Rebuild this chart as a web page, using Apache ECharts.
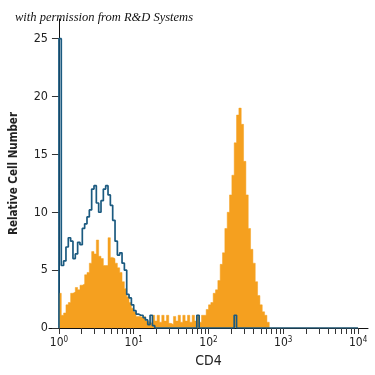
<!DOCTYPE html>
<html>
<head>
<meta charset="utf-8">
<style>html,body{margin:0;padding:0;background:#fff;}#c{width:375px;height:375px;}</style>
<script src="https://cdn.jsdelivr.net/npm/echarts@6/dist/echarts.min.js"></script>
</head>
<body>
<div id="c"></div>
<script>
// Histogram bins: log10 of first bin edge and bin width (in decades)
const binStart = 0;
const binWidth = 1 / 32;
// Orange (stained) histogram counts per bin
const orangeCounts = [
  3.0, 1.1, 1.3, 2.0, 2.2, 3.0, 3.1, 3.5, 3.3, 3.7,
  3.8, 4.6, 4.8, 5.6, 6.6, 6.4, 7.6, 6.2, 6.0, 5.4,
  5.4, 7.8, 6.1, 6.0, 5.6, 5.2, 4.8, 4.0, 3.4, 2.7,
  2.2, 1.7, 1.4, 1.0, 1.0, 0.9, 1.0, 0.6, 0.5, 0.4,
  1.1, 0.6, 1.1, 0.5, 1.1, 0.6, 1.1, 0.4, 0.3, 1.0,
  0.6, 1.1, 0.5, 1.1, 0.6, 1.1, 0.5, 1.1, 0.6, 1.1,
  0.5, 1.1, 1.1, 1.6, 2.0, 2.2, 3.0, 3.3, 4.1, 5.5,
  6.5, 8.6, 10.0, 11.5, 13.2, 16.0, 18.4, 19.0, 17.6, 14.4,
  11.5, 8.6, 6.8, 5.6, 4.0, 2.8, 2.0, 1.4, 1.1, 0.5,
  0, 0, 0, 0, 0, 0, 0, 0, 0, 0,
  0, 0, 0, 0, 0, 0, 0, 0, 0, 0,
  0, 0, 0, 0, 0, 0, 0, 0, 0, 0,
  0, 0, 0, 0, 0, 0, 0, 0
];
// Blue (isotype control) histogram counts per bin
const blueCounts = [
  25, 5.4, 5.8, 7.0, 7.8, 7.5, 6.0, 6.4, 7.4, 7.2,
  8.6, 9.0, 9.6, 10.2, 12.0, 12.3, 10.8, 10.0, 11.0, 12.0,
  12.3, 11.5, 10.6, 9.3, 7.5, 6.3, 6.5, 5.6, 5.0, 2.9,
  2.6, 2.0, 1.5, 1.2, 1.1, 1.1, 0.9, 0.7, 0.3, 1.1,
  0.2, 0, 0, 0, 0, 0, 0, 0, 0, 0,
  0, 0, 0, 0, 0, 0, 0, 0, 0, 1.1,
  0, 0, 0, 0, 0, 0, 0, 0, 0, 0,
  0, 0, 0, 0, 0, 1.1, 0, 0, 0, 0,
  0, 0, 0, 0, 0, 0, 0, 0, 0, 0,
  0, 0, 0, 0, 0, 0, 0, 0, 0, 0,
  0, 0, 0, 0, 0, 0, 0, 0, 0, 0,
  0, 0, 0, 0, 0, 0, 0, 0, 0, 0,
  0, 0, 0, 0, 0, 0, 0, 0
];
// Axis ticks
const xDecades = [0, 1, 2, 3, 4];
const xDecadeLabels = ['0', '1', '2', '3', '4'];
const yTicks = [0, 5, 10, 15, 20, 25];

function toSteps(counts) {
  const pts = [[binStart, 0]];
  for (let i = 0; i < counts.length; i++) {
    pts.push([binStart + i * binWidth, counts[i]]);
  }
  pts.push([binStart + counts.length * binWidth, 0]);
  return pts;
}
const minorTicks = [];
for (let d = 0; d < 4; d++) {
  for (let k = 1; k <= 9; k++) minorTicks.push(d + Math.log10(k));
}
minorTicks.push(4);

const font = '"Liberation Sans Narrow", "DejaVu Sans Condensed", sans-serif';
const chart = echarts.init(document.getElementById('c'));
chart.setOption({
  animation: false,
  title: {
    text: 'with permission from R&D Systems',
    left: 10, top: 6,
    textStyle: { fontFamily: '"Liberation Serif", serif', fontStyle: 'italic', fontWeight: 'normal', fontSize: 12.5, color: '#111' }
  },
  grid: { left: 47, right: 7, top: 19, bottom: 47 },
  xAxis: {
    type: 'value', min: -0.133, max: 4.133,
    name: 'CD4', nameLocation: 'middle', nameGap: 25,
    nameTextStyle: { fontFamily: font, fontSize: 14, color: '#222' },
    axisLine: { lineStyle: { color: '#111', width: 1 } },
    axisTick: { customValues: minorTicks, length: 6, lineStyle: { color: '#333' } },
    axisLabel: {
      customValues: xDecades, margin: 8,
      formatter: v => '{b|10}{s|' + xDecadeLabels[xDecades.indexOf(Math.round(v))] + '}',
      rich: {
        b: { fontFamily: font, fontSize: 12, color: '#222', lineHeight: 14 },
        s: { fontFamily: font, fontSize: 8, color: '#222', lineHeight: 14, verticalAlign: 'top' }
      }
    },
    splitLine: { show: false }
  },
  yAxis: {
    type: 'value', min: 0, max: 26.7, offset: -8,
    name: 'Relative Cell Number', nameLocation: 'middle', nameGap: 37,
    nameTextStyle: { fontFamily: font, fontSize: 11.5, fontWeight: 'bold', color: '#222' },
    axisLine: { show: true, lineStyle: { color: '#111', width: 1 } },
    axisTick: { show: true, customValues: yTicks, length: 7, lineStyle: { color: '#333' } },
    axisLabel: { customValues: yTicks, margin: 9, fontFamily: font, fontSize: 12.5, color: '#222' },
    splitLine: { show: false }
  },
  series: [
    {
      type: 'line', step: 'end', symbol: 'none', data: toSteps(orangeCounts),
      lineStyle: { color: '#f5a01f', width: 0.5 },
      areaStyle: { color: '#f5a01f', opacity: 1 },
      z: 2
    },
    {
      type: 'line', step: 'end', symbol: 'none', data: toSteps(blueCounts),
      lineStyle: { color: '#1b5a80', width: 1.7 },
      z: 3
    }
  ]
});
</script>
</body>
</html>
